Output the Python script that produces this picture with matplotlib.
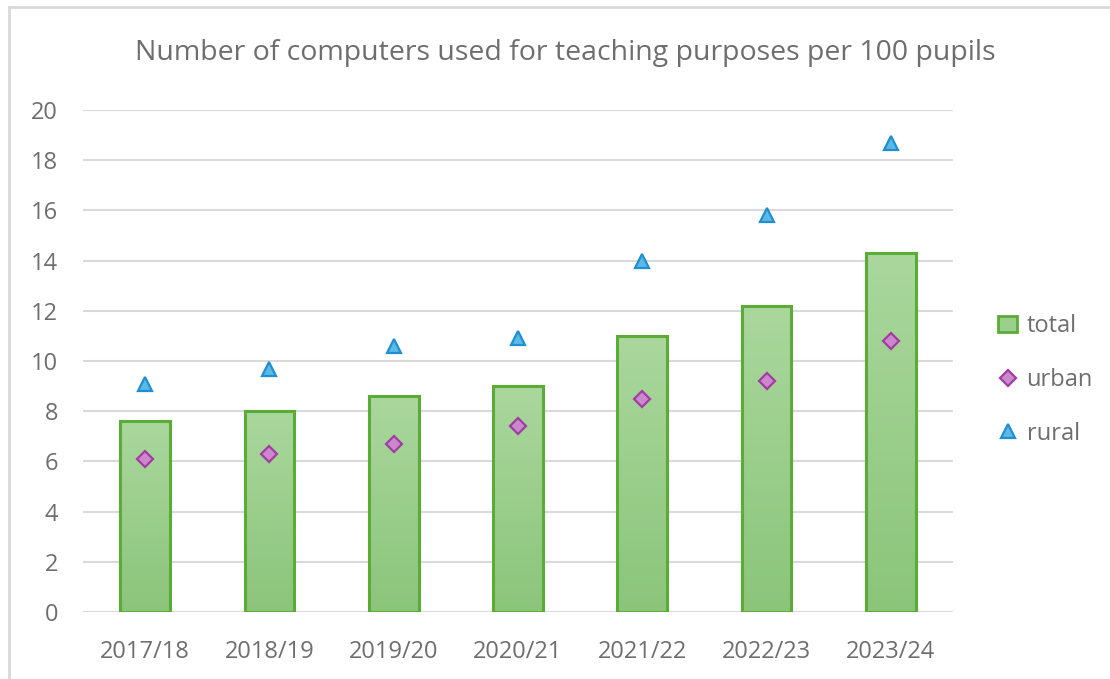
import numpy as np
import matplotlib
matplotlib.use('Agg')
import matplotlib.pyplot as plt
from matplotlib.lines import Line2D
from matplotlib.patches import Patch

# data
years = ['2017/18', '2018/19', '2019/20', '2020/21', '2021/22', '2022/23', '2023/24']
total = [7.6, 8.0, 8.6, 9.0, 11.0, 12.2, 14.3]
urban = [6.1, 6.3, 6.7, 7.4, 8.5, 9.2, 10.8]
rural = [9.1, 9.7, 10.6, 10.9, 14.0, 15.8, 18.7]

TXT = '#6e6e6e'
plt.rcParams['font.family'] = ['Open Sans', 'DejaVu Sans']

fig = plt.figure(figsize=(11.1, 6.79), dpi=100)
ax = fig.add_axes([83/1110, 1 - 612/679, 870/1110, 502/679])

x = np.arange(len(years))
bars = ax.bar(x, total, width=0.4, color='none', edgecolor='#5aac37',
              linewidth=2.2, zorder=3)

# vertical gradient fill, lighter at the top
grad = np.linspace(0, 1, 256).reshape(-1, 1)
cmap = matplotlib.colors.LinearSegmentedColormap.from_list('g', ['#8bc57a', '#aad79d'])
for b in bars:
    x0, y0 = b.get_x(), b.get_y()
    w, h = b.get_width(), b.get_height()
    im = ax.imshow(grad, cmap=cmap, origin='lower', aspect='auto',
                   extent=[x0, x0 + w, y0, y0 + h], zorder=2)
    im.set_clip_path(b)

ax.plot(x, urban, ls='none', marker='D', ms=8, mfc='#cc88cc', mec='#a23ca2',
        mew=1.6, zorder=4)
ax.plot(x, rural, ls='none', marker='^', ms=10, mfc='#5cb8e6', mec='#1f8fd0',
        mew=1.6, zorder=4)

ax.set_xlim(-0.5, 6.5)
ax.set_ylim(0, 20)
ax.set_yticks(range(0, 21, 2))
ax.set_xticks(x)
ax.set_xticklabels(years)
ax.yaxis.grid(True, color='#d9d9d9', lw=1.5, zorder=0)
ax.set_axisbelow(True)
for s in ax.spines.values():
    s.set_visible(False)
ax.tick_params(length=0, labelsize=17, colors=TXT)
ax.tick_params(axis='x', pad=20)
ax.tick_params(axis='y', pad=18)

fig.text(0.509, 1 - 53/679, 'Number of computers used for teaching purposes per 100 pupils',
         ha='center', va='center', fontsize=20.5, color=TXT)

handles = [
    Patch(facecolor='#9bcf8b', edgecolor='#5aac37', linewidth=2),
    Line2D([], [], ls='none', marker='D', ms=8, mfc='#cc88cc', mec='#a23ca2', mew=1.6),
    Line2D([], [], ls='none', marker='^', ms=10, mfc='#5cb8e6', mec='#1f8fd0', mew=1.6),
]
fig.legend(handles, ['total', 'urban', 'rural'], loc='center left',
           bbox_to_anchor=(977/1110, 1 - 380/679), frameon=False,
           fontsize=17, labelcolor=TXT, labelspacing=1.25, handlelength=0.8,
           handletextpad=0.4)

# light frame on the left and top edges
fig.add_artist(Line2D([9/1110, 9/1110], [0, 1 - 7/679], color='#d9d9d9', lw=2))
fig.add_artist(Line2D([9/1110, 1], [1 - 7/679, 1 - 7/679], color='#d9d9d9', lw=2))

fig.savefig('out.png', dpi=100)
